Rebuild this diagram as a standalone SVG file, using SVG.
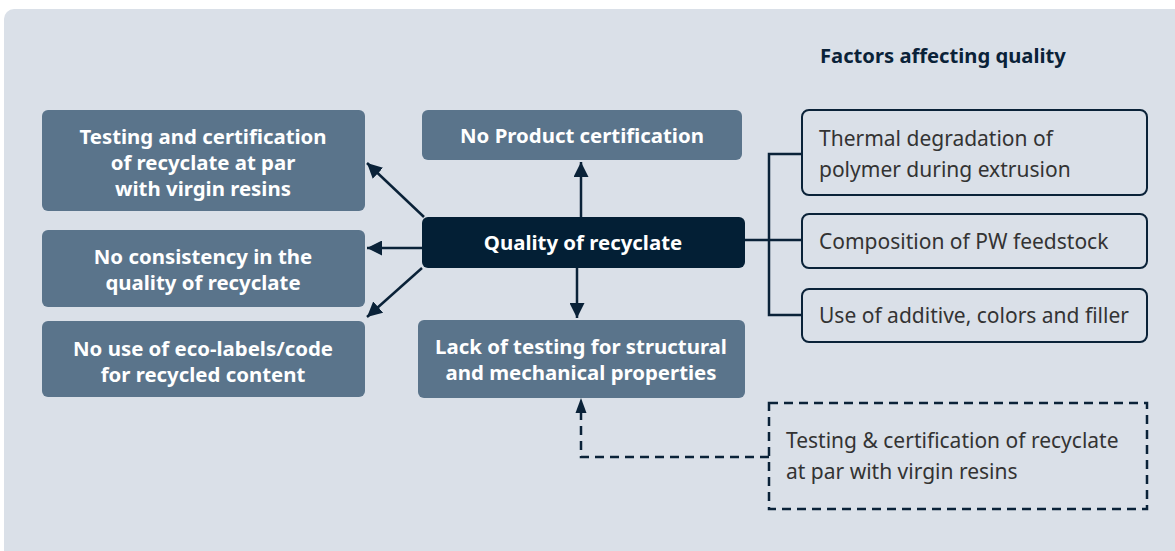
<svg xmlns="http://www.w3.org/2000/svg" width="1175" height="551" viewBox="0 0 1175 551">
<style>
.nb{fill:#5a748b}
.wt{fill:#fff;font-family:"Noto Sans",sans-serif;font-weight:bold;font-size:20.4px;text-anchor:middle}
.rb{fill:none;stroke:#0a2238;stroke-width:2}
.rt{fill:#333;font-family:"Noto Sans",sans-serif;font-size:21px}
.ln{fill:none;stroke:#0a2238;stroke-width:2.5}
.ds{fill:none;stroke:#0a2238;stroke-width:2.5;stroke-dasharray:9 6}
</style>
<defs>
<marker id="ah" viewBox="0 0 10 10" refX="10" refY="5" markerWidth="6" markerHeight="6" orient="auto" markerUnits="strokeWidth">
<path d="M0,0 L10,5 L0,10 z" fill="#0a2238"/>
</marker>
</defs>
<rect x="4" y="9" width="1185" height="560" rx="10" fill="#dae0e8"/>
<text x="820" y="63" font-family="Noto Sans, sans-serif" font-weight="bold" font-size="20.2" fill="#0a2238">Factors affecting quality</text>
<g id="connectors">
<line class="ln" x1="581" y1="217" x2="581" y2="162" marker-end="url(#ah)"/>
<line class="ln" x1="577" y1="268" x2="577" y2="318" marker-end="url(#ah)"/>
<line class="ln" x1="422" y1="248" x2="367" y2="248" marker-end="url(#ah)"/>
<line class="ln" x1="424" y1="217" x2="367" y2="163" marker-end="url(#ah)"/>
<line class="ln" x1="422" y1="268" x2="367" y2="317" marker-end="url(#ah)"/>
<path class="ln" d="M745,240 H802 M802,154 H769 V315 H802"/>
<path class="ds" d="M769,457 H581 V404"/>
<path d="M581,398 L575.5,413 L586.5,413 z" fill="#0a2238"/>
</g>
<g id="n1"><rect class="nb" x="42" y="110" width="323" height="101" rx="6"/>
<text class="wt" x="203" y="144">Testing and certification</text>
<text class="wt" x="203" y="170">of recyclate at par</text>
<text class="wt" x="203" y="196">with virgin resins</text></g>
<g id="n2"><rect class="nb" x="42" y="230" width="323" height="77" rx="6"/>
<text class="wt" x="203" y="264">No consistency in the</text>
<text class="wt" x="203" y="290">quality of recyclate</text></g>
<g id="n3"><rect class="nb" x="42" y="321" width="323" height="76" rx="6"/>
<text class="wt" x="203" y="356">No use of eco-labels/code</text>
<text class="wt" x="203" y="382">for recycled content</text></g>
<g id="n4"><rect class="nb" x="422" y="110" width="320" height="50" rx="6"/>
<text class="wt" x="582" y="143">No Product certification</text></g>
<g id="n5"><rect x="422" y="217" width="323" height="51" rx="6" fill="#031f35"/>
<text class="wt" x="583" y="250">Quality of recyclate</text></g>
<g id="n6"><rect class="nb" x="418" y="320" width="327" height="78" rx="6"/>
<text class="wt" x="581" y="354">Lack of testing for structural</text>
<text class="wt" x="581" y="380">and mechanical properties</text></g>
<g id="r1"><rect class="rb" x="802" y="110" width="345" height="85" rx="7"/>
<text class="rt" x="819" y="146">Thermal degradation of</text>
<text class="rt" x="819" y="177">polymer during extrusion</text></g>
<g id="r2"><rect class="rb" x="802" y="214" width="345" height="54" rx="7"/>
<text class="rt" x="819" y="249">Composition of PW feedstock</text></g>
<g id="r3"><rect class="rb" x="802" y="289" width="345" height="53" rx="7"/>
<text class="rt" x="819" y="323">Use of additive, colors and filler</text></g>
<g id="r4"><rect class="ds" x="769" y="403" width="378" height="106"/>
<text class="rt" x="786" y="448">Testing &amp; certification of recyclate</text>
<text class="rt" x="786" y="479">at par with virgin resins</text></g>
</svg>
